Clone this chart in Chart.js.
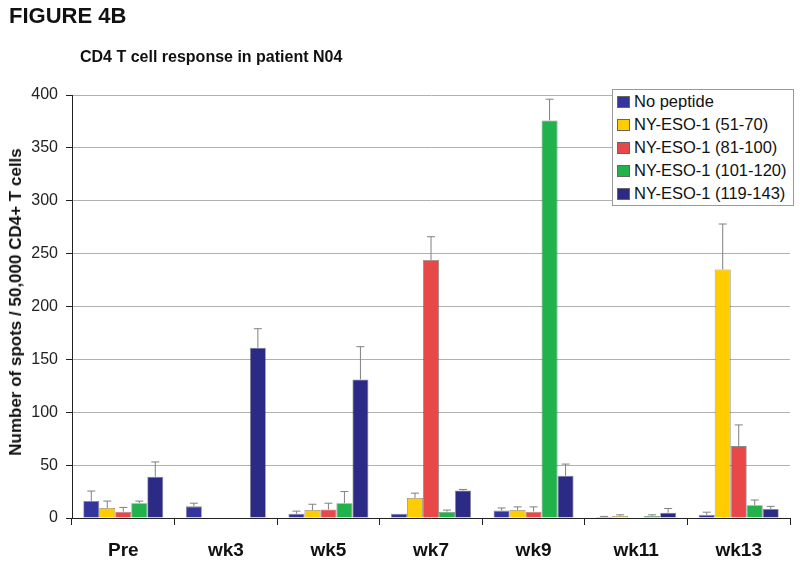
<!DOCTYPE html>
<html>
<head>
<meta charset="utf-8">
<script src="https://cdn.jsdelivr.net/npm/chart.js@4.4.0/dist/chart.umd.min.js"></script>
<style>
  body { margin: 0; background: #fff; font-family: "Liberation Sans", Arial, sans-serif; }
  #wrap { position: relative; width: 800px; height: 565px; }
  #chart { position: absolute; left: 0; top: 0; }
  .fig { position: absolute; left: 9px; top: 3px; font-size: 22px; font-weight: bold; color: #111; }
  .sub { position: absolute; left: 80px; top: 48px; font-size: 16px; font-weight: bold; color: #111; }
  .ytitle { position: absolute; left: 16px; top: 302px; transform: translate(-50%, -50%) rotate(-90deg);
            white-space: nowrap; font-size: 17px; font-weight: bold; color: #111; }
  #legend { position: absolute; left: 612px; top: 89px; width: 182px; height: 117px; border: 1px solid #999;
            background: #fff; box-sizing: border-box; padding: 0 0 0 4px; }
  #legend div { height: 23px; line-height: 23px; font-size: 16.5px; color: #111; white-space: nowrap; }
  #legend span { display: inline-block; width: 11px; height: 10px; border: 1px solid #666; margin-right: 4px; vertical-align: -1px; }
</style>
</head>
<body>
<div id="wrap">
  <canvas id="chart" width="800" height="565"></canvas>
  <div class="fig">FIGURE 4B</div>
  <div class="sub">CD4 T cell response in patient N04</div>
  <div class="ytitle">Number of spots / 50,000 CD4+ T cells</div>
  <div id="legend"></div>
</div>
<script>
const categories = ["Pre", "wk3", "wk5", "wk7", "wk9", "wk11", "wk13"];
const seriesNames = ["No peptide", "NY-ESO-1 (51-70)", "NY-ESO-1 (81-100)", "NY-ESO-1 (101-120)", "NY-ESO-1 (119-143)"];
const seriesColors = ["#34349c", "#ffcc00", "#e84848", "#22b24c", "#2b2b86"];

const noPeptide = [16, 11, 4, 4, 7, 1, 3];
const eso51 = [9.5, 0, 7.5, 19, 7.5, 2, 235];
const eso81 = [6, 0.5, 8, 244, 6, 0.5, 68];
const eso101 = [14, 0.5, 14, 6, 376, 2, 12];
const eso119 = [39, 161, 131, 26, 40, 5, 8.5];

const errNoPeptide = [9.5, 3, 2.5, 0, 2.5, 0.5, 2.5];
const err51 = [6.5, 0, 5.5, 4.5, 3, 1, 43];
const err81 = [4, 0, 6, 22, 4.5, 0, 20];
const err101 = [2, 0, 11, 1.5, 20, 1, 5];
const err119 = [14, 18, 31, 1, 11, 4, 2.5];

const yTicks = [0, 50, 100, 150, 200, 250, 300, 350, 400];

const allValues = [noPeptide, eso51, eso81, eso101, eso119];
const allErrors = [errNoPeptide, err51, err81, err101, err119];

// upward error bars drawn through the y scale
const errorBars = {
    id: "errorBars",
    afterDatasetsDraw(chart) {
        const ctx = chart.ctx;
        const y = chart.scales.y;
        ctx.save();
        ctx.strokeStyle = "#808080";
        ctx.lineWidth = 1;
        chart.data.datasets.forEach((ds, i) => {
            const meta = chart.getDatasetMeta(i);
            meta.data.forEach((bar, j) => {
                const e = ds.errors[j];
                if (!e) return;
                const top = y.getPixelForValue(ds.data[j] + e);
                ctx.beginPath();
                ctx.moveTo(bar.x, bar.y);
                ctx.lineTo(bar.x, top);
                ctx.moveTo(bar.x - 4, top);
                ctx.lineTo(bar.x + 4, top);
                ctx.stroke();
            });
        });
        ctx.restore();
    }
};

const datasets = seriesNames.map((name, i) => ({
    label: name,
    data: allValues[i],
    errors: allErrors[i],
    backgroundColor: seriesColors[i],
    borderColor: "rgba(60,60,60,0.6)",
    borderWidth: 0.8,
    barPercentage: 1,
    categoryPercentage: 0.78
}));

new Chart(document.getElementById("chart"), {
    type: "bar",
    data: { labels: categories, datasets: datasets },
    plugins: [errorBars],
    options: {
        responsive: false,
        animation: false,
        layout: { padding: { top: 95, right: 10, left: 0, bottom: 0 } },
        plugins: { legend: { display: false }, tooltip: { enabled: false } },
        scales: {
            x: {
                grid: { display: true, drawOnChartArea: false, offset: true, color: "#222", tickLength: 7 },
                border: { display: true, color: "#222", width: 1 },
                ticks: { color: "#111", font: { family: "Liberation Sans", size: 19, weight: "bold" }, padding: 14 },
                afterFit(scale) { scale.height = 47; }
            },
            y: {
                min: 0,
                max: 400,
                afterBuildTicks(scale) { scale.ticks = yTicks.map(v => ({ value: v })); },
                grid: { color: "#b0b0b0", tickColor: "#222", tickLength: 6 },
                border: { display: true, color: "#222", width: 1 },
                ticks: { color: "#222", font: { family: "Liberation Sans", size: 16 }, padding: 8 },
                afterFit(scale) { scale.width = 72; }
            }
        }
    }
});

const legendEl = document.getElementById("legend");
seriesNames.forEach((name, i) => {
    const row = document.createElement("div");
    row.innerHTML = `<span style="background:${seriesColors[i]}"></span>${name}`;
    legendEl.appendChild(row);
});
</script>
</body>
</html>
